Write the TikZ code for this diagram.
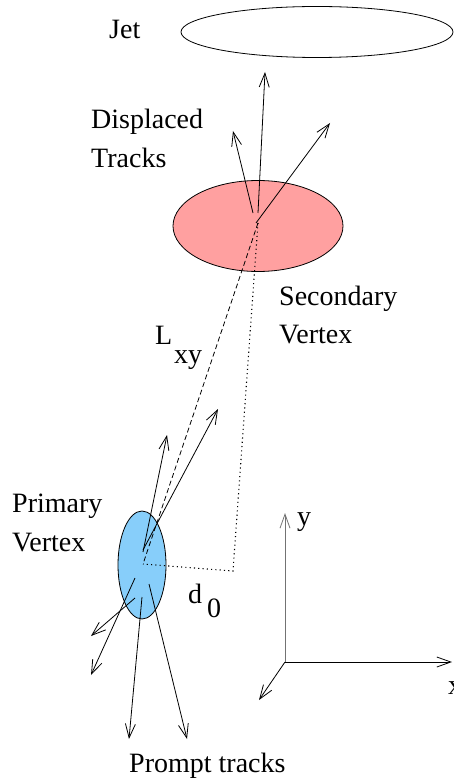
\documentclass[tikz,border=0pt]{standalone}
\usepackage{fontspec}
\setmainfont{Liberation Serif}
\usetikzlibrary{arrows.meta, shapes.geometric}

\definecolor{secRed}{HTML}{FFA0A0}
\definecolor{primBlue}{HTML}{87CEFA}

\begin{document}
\begin{tikzpicture}[
    x=1pt, y=-1pt,
    font=\fontsize{28}{32}\selectfont,
    % Blob Styles
    blob/.style={ellipse, draw=black, line width=0.8pt, inner sep=0pt},
    jetBlob/.style={blob, fill=white, minimum width=272pt, minimum height=51pt},
    secBlob/.style={blob, fill=secRed, minimum width=170pt, minimum height=91pt},
    primBlob/.style={blob, fill=primBlue, minimum width=48pt, minimum height=108pt},
    % Text Style
    txt/.style={anchor=base west, inner sep=0pt},
    % Line Styles
    track/.style={-{Straight Barb[length=14pt, width=10pt]}, line width=0.8pt},
    axis/.style={track},
    decay/.style={line width=0.8pt, dash pattern=on 5pt off 3pt},
    impact/.style={line width=1.1pt, dash pattern=on 1.1pt off 3.2pt}
]
    \useasboundingbox (0,0) rectangle (453,783);

    % --- JET ---
    \node[jetBlob] (jet) at (317,32) {};
    \node[txt] (jetLbl) at (109,39) {Jet};

    % --- VERTICES ---
    \node[secBlob] (sec) at (258,226) {};
    \node[primBlob] (prim) at (142,565) {};
    \coordinate (sv) at (258,223);
    \coordinate (pv) at (143,564);
    \coordinate (dcorner) at (233,571);

    % --- DISPLACED TRACKS ---
    \foreach \sx/\sy/\ex/\ey [count=\i] in {253/213/233/131, 258/213/265/72, 256/223/330/123} {
        \coordinate (ds\i) at (\sx,\sy);
        \coordinate (de\i) at (\ex,\ey);
        \draw[track] (ds\i) -- (de\i);
    }

    % --- DECAY LENGTH AND IMPACT PARAMETER ---
    \draw[decay] (sv) -- (pv);
    \draw[impact] (sv) -- (dcorner) -- (pv);

    % --- PROMPT TRACKS ---
    \foreach \sx/\sy/\ex/\ey [count=\i] in {143/552/167/435, 143/550/218/409, 135/598/91/636,
        135/578/91/675, 142/597/129/739, 149/584/187/739} {
        \coordinate (ps\i) at (\sx,\sy);
        \coordinate (pe\i) at (\ex,\ey);
        \draw[track] (ps\i) -- (pe\i);
    }

    % --- AXES ---
    \coordinate (origin) at (285,662);
    \coordinate (yTip) at (285,513);
    \coordinate (xTip) at (452,662);
    \coordinate (zTip) at (259,700);
    \draw[axis, draw=black!55] (origin) -- (yTip);
    \draw[axis] (origin) -- (xTip);
    \draw[axis] (origin) -- (zTip);

    % --- LABELS ---
    \node[txt] (dispLbl) at (91,129) {Displaced};
    \node[txt] (trkLbl) at (91,168) {Tracks};
    \node[txt] (secLbl) at (279,305) {Secondary};
    \node[txt] (secLbl2) at (279,343) {Vertex};
    \node[txt] (lLbl) at (155,344) {L};
    \node[txt] (lSub) at (174,363) {xy};
    \node[txt] (primLbl) at (12,512) {Primary};
    \node[txt] (primLbl2) at (12,551) {Vertex};
    \node[txt] (dLbl) at (188,603) {d};
    \node[txt] (dSub) at (207,617) {0};
    \node[txt] (yLbl) at (297,525) {y};
    \node[txt] (xLbl) at (448,694) {x};
    \node[txt] (promptLbl) at (129,772) {Prompt tracks};

\end{tikzpicture}
\end{document}
